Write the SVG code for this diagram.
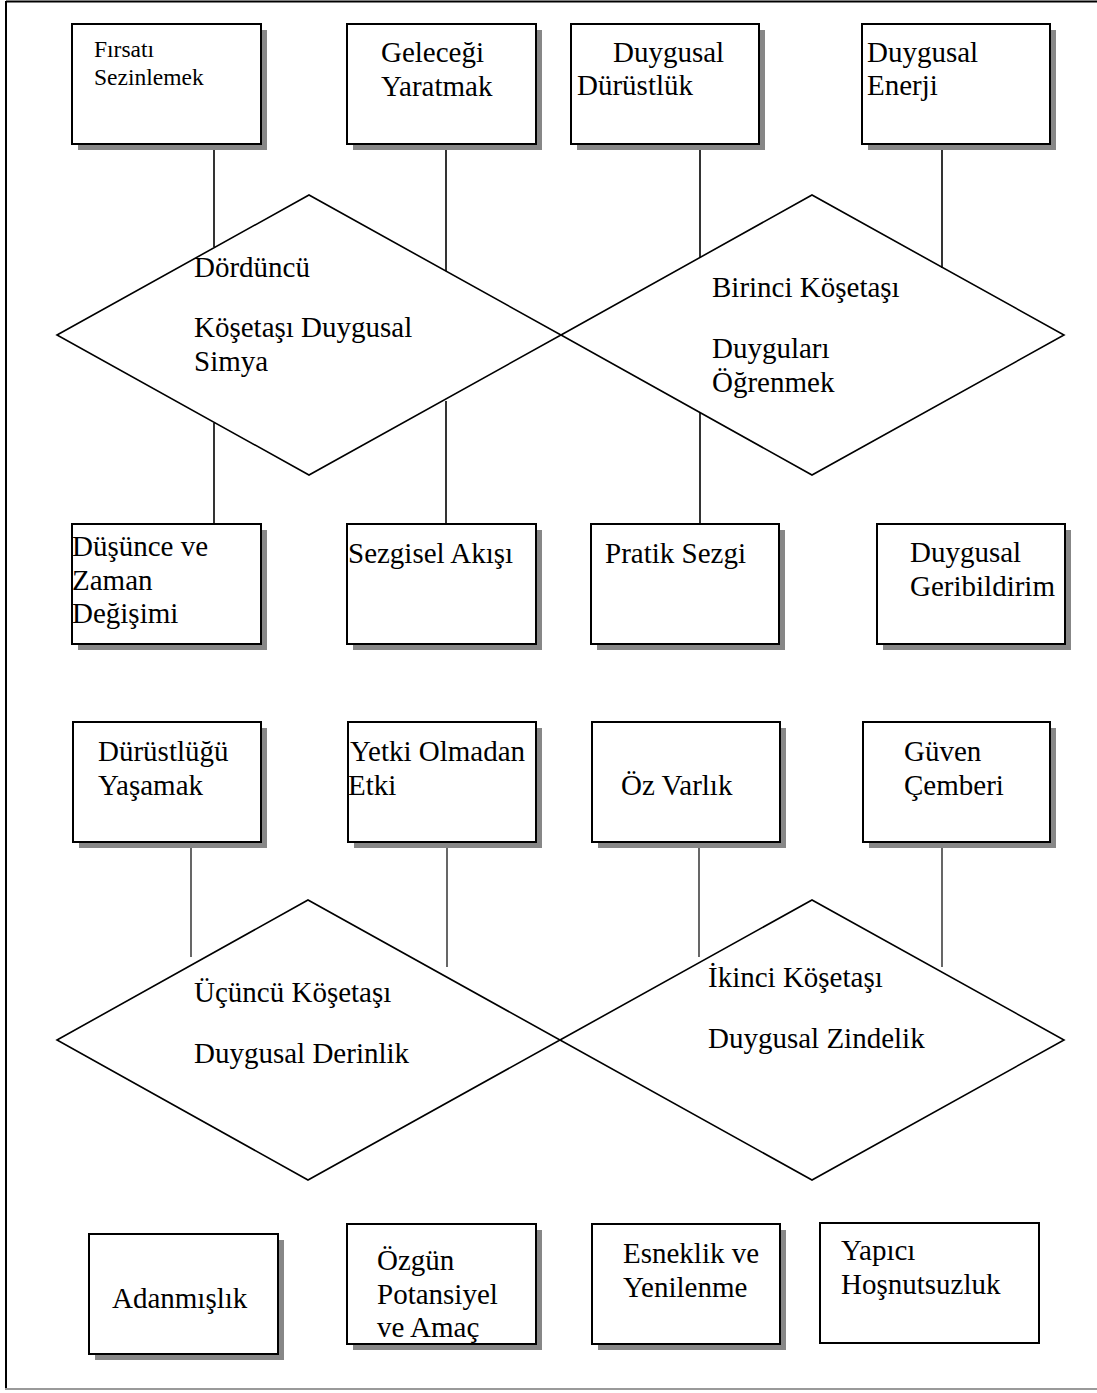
<svg xmlns="http://www.w3.org/2000/svg" width="1097" height="1393" viewBox="0 0 1097 1393">
  <style>
    .box { fill: #ffffff; stroke: #000000; stroke-width: 2; }
    .shadow { fill: #878787; stroke: none; }
    .diamond { fill: none; stroke: #000000; stroke-width: 1.6; }
    .link { stroke: #000000; stroke-width: 1.6; fill: none; }
    .link-thin { stroke: #000000; stroke-width: 1.2; fill: none; }
    .lbl { font-family: "Liberation Serif", "Times New Roman", serif; font-size: 29px; fill: #000000; }
    .lbl-sm { font-family: "Liberation Serif", "Times New Roman", serif; font-size: 23.5px; fill: #000000; }
  </style>

  <rect x="0" y="0" width="1097" height="1393" fill="#ffffff"/>

  <!-- page frame -->
  <g id="frame">
    <line x1="6" y1="1.5" x2="1097" y2="1.5" stroke="#000" stroke-width="2"/>
    <line x1="6" y1="1" x2="6" y2="1389" stroke="#000" stroke-width="2"/>
    <line x1="5" y1="1389" x2="1097" y2="1389" stroke="#9a9a9a" stroke-width="2"/>
  </g>

  <!-- connectors -->
  <g id="connectors">
    <line class="link" x1="214" y1="144" x2="214" y2="247"/>
    <line class="link" x1="446" y1="144" x2="446" y2="271"/>
    <line class="link" x1="700" y1="144" x2="700" y2="258"/>
    <line class="link" x1="942" y1="144" x2="942" y2="268"/>
    <line class="link" x1="214" y1="423" x2="214" y2="524"/>
    <line class="link" x1="446" y1="401" x2="446" y2="524"/>
    <line class="link" x1="700" y1="413" x2="700" y2="524"/>
    <line class="link-thin" x1="191" y1="842" x2="191" y2="957"/>
    <line class="link-thin" x1="447" y1="842" x2="447" y2="967"/>
    <line class="link-thin" x1="699" y1="842" x2="699" y2="957"/>
    <line class="link-thin" x1="942" y1="842" x2="942" y2="967"/>
  </g>

  <!-- cornerstone diamonds -->
  <g id="d4">
    <polygon class="diamond" points="57,335 309,195 561,335 309,475"/>
    <text class="lbl" x="194" y="277">Dördüncü</text>
    <text class="lbl" x="194" y="337">Köşetaşı Duygusal</text>
    <text class="lbl" x="194" y="371">Simya</text>
  </g>
  <g id="d1">
    <polygon class="diamond" points="561,335 812,195 1064,335 812,475"/>
    <text class="lbl" x="712" y="297">Birinci Köşetaşı</text>
    <text class="lbl" x="712" y="358">Duyguları</text>
    <text class="lbl" x="712" y="392">Öğrenmek</text>
  </g>
  <g id="d3">
    <polygon class="diamond" points="57,1040 308,900 560,1040 308,1180"/>
    <text class="lbl" x="194" y="1002">Üçüncü Köşetaşı</text>
    <text class="lbl" x="194" y="1063">Duygusal Derinlik</text>
  </g>
  <g id="d2">
    <polygon class="diamond" points="560,1040 812,900 1064,1040 812,1180"/>
    <text class="lbl" x="708" y="987">İkinci Köşetaşı</text>
    <text class="lbl" x="708" y="1048">Duygusal Zindelik</text>
  </g>

  <!-- row 1 -->
  <g id="n-firsati">
    <rect class="shadow" x="78" y="30" width="189" height="120"/>
    <rect class="box" x="72" y="24" width="189" height="120"/>
    <text class="lbl-sm" x="94" y="57">Fırsatı</text>
    <text class="lbl-sm" x="94" y="85">Sezinlemek</text>
  </g>
  <g id="n-gelecegi">
    <rect class="shadow" x="353" y="30" width="189" height="120"/>
    <rect class="box" x="347" y="24" width="189" height="120"/>
    <text class="lbl" x="381" y="62">Geleceği</text>
    <text class="lbl" x="381" y="96">Yaratmak</text>
  </g>
  <g id="n-durustluk">
    <rect class="shadow" x="577" y="30" width="188" height="120"/>
    <rect class="box" x="571" y="24" width="188" height="120"/>
    <text class="lbl" x="613" y="62">Duygusal</text>
    <text class="lbl" x="577" y="95">Dürüstlük</text>
  </g>
  <g id="n-enerji">
    <rect class="shadow" x="868" y="30" width="188" height="120"/>
    <rect class="box" x="862" y="24" width="188" height="120"/>
    <text class="lbl" x="867" y="62">Duygusal</text>
    <text class="lbl" x="867" y="95">Enerji</text>
  </g>

  <!-- row 2 -->
  <g id="n-dusunce">
    <rect class="shadow" x="78" y="530" width="189" height="120"/>
    <rect class="box" x="72" y="524" width="189" height="120"/>
    <text class="lbl" x="72" y="556">Düşünce ve</text>
    <text class="lbl" x="72" y="590">Zaman</text>
    <text class="lbl" x="72" y="623">Değişimi</text>
  </g>
  <g id="n-sezgisel">
    <rect class="shadow" x="353" y="530" width="189" height="120"/>
    <rect class="box" x="347" y="524" width="189" height="120"/>
    <text class="lbl" x="348" y="563">Sezgisel Akışı</text>
  </g>
  <g id="n-pratik">
    <rect class="shadow" x="597" y="530" width="188" height="120"/>
    <rect class="box" x="591" y="524" width="188" height="120"/>
    <text class="lbl" x="605" y="563">Pratik Sezgi</text>
  </g>
  <g id="n-geribildirim">
    <rect class="shadow" x="883" y="530" width="188" height="120"/>
    <rect class="box" x="877" y="524" width="188" height="120"/>
    <text class="lbl" x="910" y="562">Duygusal</text>
    <text class="lbl" x="910" y="596">Geribildirim</text>
  </g>

  <!-- row 3 -->
  <g id="n-durustlugu">
    <rect class="shadow" x="79" y="728" width="188" height="120"/>
    <rect class="box" x="73" y="722" width="188" height="120"/>
    <text class="lbl" x="98" y="761">Dürüstlüğü</text>
    <text class="lbl" x="98" y="795">Yaşamak</text>
  </g>
  <g id="n-yetki">
    <rect class="shadow" x="354" y="728" width="188" height="120"/>
    <rect class="box" x="348" y="722" width="188" height="120"/>
    <text class="lbl" x="350" y="761">Yetki Olmadan</text>
    <text class="lbl" x="348" y="795">Etki</text>
  </g>
  <g id="n-ozvarlik">
    <rect class="shadow" x="598" y="728" width="188" height="120"/>
    <rect class="box" x="592" y="722" width="188" height="120"/>
    <text class="lbl" x="621" y="795">Öz Varlık</text>
  </g>
  <g id="n-guven">
    <rect class="shadow" x="869" y="728" width="187" height="120"/>
    <rect class="box" x="863" y="722" width="187" height="120"/>
    <text class="lbl" x="904" y="761">Güven</text>
    <text class="lbl" x="904" y="795">Çemberi</text>
  </g>

  <!-- row 4 -->
  <g id="n-adanmislik">
    <rect class="shadow" x="95" y="1240" width="189" height="120"/>
    <rect class="box" x="89" y="1234" width="189" height="120"/>
    <text class="lbl" x="112" y="1308">Adanmışlık</text>
  </g>
  <g id="n-ozgun">
    <rect class="shadow" x="353" y="1230" width="189" height="120"/>
    <rect class="box" x="347" y="1224" width="189" height="120"/>
    <text class="lbl" x="377" y="1270">Özgün</text>
    <text class="lbl" x="377" y="1304">Potansiyel</text>
    <text class="lbl" x="377" y="1337">ve Amaç</text>
  </g>
  <g id="n-esneklik">
    <rect class="shadow" x="598" y="1230" width="188" height="120"/>
    <rect class="box" x="592" y="1224" width="188" height="120"/>
    <text class="lbl" x="623" y="1263">Esneklik ve</text>
    <text class="lbl" x="623" y="1297">Yenilenme</text>
  </g>
  <g id="n-yapici">
    <rect class="box" x="820" y="1223" width="219" height="120"/>
    <text class="lbl" x="841" y="1260">Yapıcı</text>
    <text class="lbl" x="841" y="1294">Hoşnutsuzluk</text>
  </g>
</svg>
